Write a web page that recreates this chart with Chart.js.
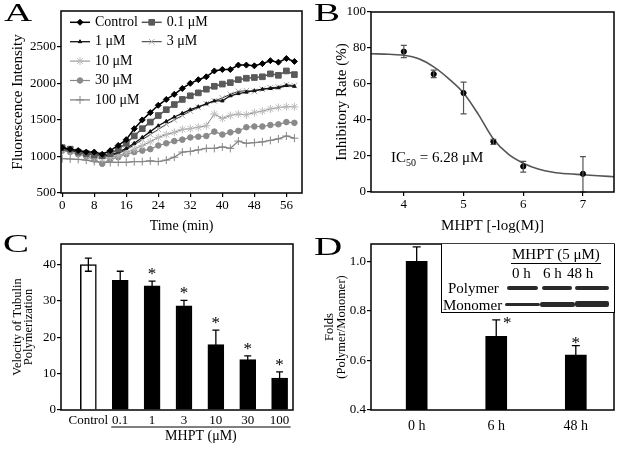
<!DOCTYPE html>
<html>
<head>
<meta charset="utf-8">
<script src="https://cdn.jsdelivr.net/npm/chart.js@4.4.0/dist/chart.umd.min.js"></script>
<style>
body{margin:0;background:#fff;}
#fig{position:relative;width:620px;height:450px;overflow:hidden;font-family:'Liberation Serif','Times New Roman',serif;color:#000;}
canvas{position:absolute;}
.lbl{position:absolute;font-size:26px;line-height:26px;transform:scaleX(1.5);transform-origin:0 0;}
.txt{position:absolute;font-size:15px;line-height:18px;white-space:nowrap;}
.band{position:absolute;background:#2a2a2a;border-radius:2px;filter:blur(0.6px);}
</style>
</head>
<body>
<div id="fig">
  <canvas id="cA" width="310" height="235" style="left:0;top:0"></canvas>
  <canvas id="cB" width="310" height="235" style="left:310px;top:0"></canvas>
  <canvas id="cC" width="310" height="225" style="left:0;top:225px"></canvas>
  <canvas id="cD" width="310" height="225" style="left:310px;top:225px"></canvas>

  <div class="lbl" style="left:4px;top:0">A</div>
  <div class="lbl" style="left:314px;top:0">B</div>
  <div class="lbl" style="left:3px;top:231px">C</div>
  <div class="lbl" style="left:314px;top:234px">D</div>

  <div class="txt" style="left:391px;top:148px">IC<sub style="font-size:10px">50</sub> = 6.28 μM</div>

  <!-- western blot inset of panel D -->
  <div style="position:absolute;left:441px;top:244px;width:172px;height:68px;border:1px solid #000;border-top:none;background:#fff"></div>
  <div class="txt" style="left:511px;top:246px;border-bottom:1px solid #000;padding:0 1px 0 1px;line-height:17px">MHPT (5 μM)</div>
  <div class="txt" style="left:512px;top:264px">0 h</div>
  <div class="txt" style="left:543px;top:264px">6 h</div>
  <div class="txt" style="left:567px;top:264px">48 h</div>
  <div class="txt" style="left:448px;top:279px">Polymer</div>
  <div class="txt" style="left:443px;top:296px">Monomer</div>
  <div class="band" style="left:507px;top:286px;width:31px;height:4px"></div>
  <div class="band" style="left:542px;top:286px;width:30px;height:4px"></div>
  <div class="band" style="left:575px;top:286px;width:34px;height:4px"></div>
  <div class="band" style="left:505px;top:303px;width:35px;height:3px"></div>
  <div class="band" style="left:540px;top:302px;width:35px;height:5px"></div>
  <div class="band" style="left:575px;top:301px;width:34px;height:6px"></div>
</div>

<script>
// ---- data: panel A (fluorescence vs time) ----
var timeMin = [0, 2, 4, 6, 8, 10, 12, 14, 16, 18, 20, 22, 24, 26, 28, 30, 32, 34, 36, 38, 40, 42, 44, 46, 48, 50, 52, 54, 56, 58];
var fControl = [1120, 1100, 1080, 1060, 1060, 1030, 1080, 1150, 1230, 1380, 1500, 1600, 1700, 1780, 1850, 1930, 2000, 2050, 2090, 2170, 2190, 2190, 2250, 2250, 2240, 2270, 2310, 2290, 2340, 2300];
var f01 = [1120, 1100, 1060, 1040, 1020, 1010, 1040, 1100, 1180, 1280, 1380, 1470, 1560, 1640, 1710, 1780, 1830, 1870, 1920, 1960, 1990, 2010, 2050, 2070, 2080, 2090, 2130, 2110, 2170, 2120];
var f1 = [1100, 1080, 1060, 1040, 1030, 1010, 1020, 1060, 1110, 1180, 1260, 1340, 1420, 1480, 1540, 1590, 1640, 1680, 1720, 1760, 1760, 1830, 1860, 1880, 1900, 1920, 1930, 1940, 1970, 1960];
var f3 = [1110, 1090, 1060, 1040, 1020, 1000, 1010, 1040, 1090, 1160, 1230, 1300, 1370, 1440, 1500, 1560, 1620, 1670, 1720, 1760, 1800, 1850, 1890, 1900, 1890, 1920, 1940, 1950, 1980, 1970];
var f10 = [1100, 1080, 1050, 1020, 990, 970, 990, 1010, 1050, 1100, 1150, 1200, 1260, 1300, 1330, 1370, 1380, 1400, 1420, 1580, 1520, 1560, 1580, 1570, 1600, 1620, 1650, 1670, 1680, 1680];
var f30 = [1080, 1060, 1030, 1000, 960, 900, 960, 990, 1030, 1060, 1080, 1100, 1150, 1180, 1210, 1230, 1260, 1270, 1280, 1340, 1300, 1330, 1350, 1400, 1410, 1410, 1430, 1440, 1470, 1460];
var f100 = [970, 965, 960, 950, 930, 920, 920, 920, 920, 930, 930, 940, 930, 950, 990, 1060, 1070, 1090, 1110, 1110, 1130, 1110, 1210, 1180, 1190, 1200, 1220, 1240, 1280, 1250];
var aNames = ['Control', '0.1 μM', '1 μM', '3 μM', '10 μM', '30 μM', '100 μM'];
var aXTicks = [0, 8, 16, 24, 32, 40, 48, 56];
var aYTicks = [500, 1000, 1500, 2000, 2500];

// ---- data: panel B (inhibition vs -log conc) ----
var bX = [4, 4.5, 5, 5.5, 6, 7];
var bY = [78, 65.5, 55, 28, 14.2, 10.1];
var bLo = [74.7, 63.5, 43.4, 26.4, 11, 0];
var bHi = [81.5, 67.7, 61, 29.3, 17, 19.7];
var fitX = [3.45, 3.75, 4, 4.25, 4.5, 4.75, 5, 5.25, 5.5, 5.75, 6, 6.25, 6.5, 6.75, 7, 7.25, 7.52];
var fitY = [76.8, 76.5, 76, 74, 69.5, 63, 55, 43, 29.5, 21, 16, 12.8, 11, 10.1, 9.6, 9, 8.5];
var bXTicks = [4, 5, 6, 7];
var bYTicks = [0, 20, 40, 60, 80, 100];

// ---- data: panel C (velocity bars) ----
var cLabels = ['Control', '0.1', '1', '3', '10', '30', '100'];
var cVals = [40, 35.7, 34.2, 28.7, 18, 13.9, 8.8];
var cErr = [1.8, 2.5, 1.3, 1.5, 4, 1, 1.7];
var cStars = [false, false, true, true, true, true, true];
var cYTicks = [0, 10, 20, 30, 40];

// ---- data: panel D (polymer/monomer folds) ----
var dLabels = ['0 h', '6 h', '48 h'];
var dVals = [1.0, 0.697, 0.622];
var dErr = [0.058, 0.067, 0.038];
var dStars = [false, true, true];
var dYTicks = [0.4, 0.6, 0.8, 1.0];

var SERIF = "'Liberation Serif', 'Times New Roman', serif";
Chart.defaults.font.family = SERIF;
Chart.defaults.color = '#000';
Chart.defaults.animation = false;
Chart.defaults.responsive = false;
Chart.defaults.plugins.legend.display = false;
Chart.defaults.plugins.tooltip.enabled = false;

// box around every plot area
Chart.register({
  id: 'frame',
  afterDraw: function (chart) {
    var a = chart.chartArea, ctx = chart.ctx;
    ctx.save();
    ctx.strokeStyle = '#000';
    ctx.lineWidth = 1.5;
    ctx.strokeRect(a.left, a.top, a.right - a.left, a.bottom - a.top);
    ctx.restore();
  }
});

// vertical error bars from errLo / errHi
Chart.register({
  id: 'errorBars',
  afterDatasetsDraw: function (chart) {
    var ctx = chart.ctx, ys = chart.scales.y;
    chart.data.datasets.forEach(function (ds, i) {
      if (!ds.errLo) return;
      var meta = chart.getDatasetMeta(i);
      ctx.save();
      ctx.strokeStyle = ds.errColor || '#000';
      ctx.lineWidth = ds.errWidth || 1.2;
      meta.data.forEach(function (el, j) {
        var x = el.x, c = ds.capHalf || 3;
        var y1 = ys.getPixelForValue(ds.errLo[j]);
        var y2 = ys.getPixelForValue(ds.errHi[j]);
        ctx.beginPath();
        ctx.moveTo(x, y1); ctx.lineTo(x, y2);
        ctx.moveTo(x - c, y2); ctx.lineTo(x + c, y2);
        ctx.moveTo(x - c, y1); ctx.lineTo(x + c, y1);
        ctx.stroke();
      });
      ctx.restore();
    });
  }
});

// significance asterisks
Chart.register({
  id: 'stars',
  afterDatasetsDraw: function (chart, args, o) {
    if (!o || !o.marks) return;
    var ctx = chart.ctx, ds = chart.data.datasets[0], meta = chart.getDatasetMeta(0), ys = chart.scales.y;
    ctx.save();
    ctx.fillStyle = '#000';
    ctx.font = '17px ' + SERIF;
    ctx.textAlign = 'center';
    ctx.textBaseline = 'alphabetic';
    o.marks.forEach(function (m, k) {
      if (!m) return;
      var off = o.offsets ? o.offsets[k] : [0, -2];
      ctx.fillText('*', meta.data[k].x + off[0], ys.getPixelForValue(ds.errHi[k]) + off[1]);
    });
    ctx.restore();
  }
});

function yAxis(min, max, ticks, title, titleFont, titlePad, fmt) {
  return {
    type: 'linear', min: min, max: max,
    afterBuildTicks: function (s) { s.ticks = ticks.map(function (v) { return { value: v }; }); },
    afterFit: function (s) { s.width = 61; },
    grid: { drawOnChartArea: false, tickLength: 4, color: '#000', lineWidth: 1.2 },
    border: { display: false },
    ticks: { font: { size: 13 }, padding: 1, callback: fmt || function (v) { return v; } },
    title: { display: true, text: title, font: titleFont, padding: { top: titlePad, bottom: 0 } }
  };
}

// ---------- panel A ----------
var aStyles = [
  { c: '#000', w: 1.5, ps: 'rectRot', r: 3, pb: '#000', pf: '#000' },
  { c: '#555', w: 1.5, ps: 'rect', r: 4, pb: '#5a5a5a', pf: '#5a5a5a' },
  { c: '#111', w: 1.3, ps: 'triangle', r: 2, pb: '#111', pf: '#111' },
  { c: '#333', w: 1, ps: 'crossRot', r: 4, pb: '#aaa', pf: '#aaa' },
  { c: '#888', w: 1, ps: 'star', r: 4, pb: '#bbb', pf: '#bbb' },
  { c: '#888', w: 1.2, ps: 'circle', r: 2.8, pb: '#8a8a8a', pf: '#8a8a8a' },
  { c: '#777', w: 1.2, ps: 'cross', r: 4, pb: '#888', pf: '#888' }
];
var aSeries = [fControl, f01, f1, f3, f10, f30, f100];
var legendSlots = [[0, 0], [1, 0], [0, 1], [1, 1], [0, 2], [0, 3], [0, 4]];

new Chart(document.getElementById('cA'), {
  type: 'line',
  data: {
    datasets: aSeries.map(function (vals, i) {
      var s = aStyles[i];
      return {
        label: aNames[i],
        data: vals.map(function (v, k) { return { x: timeMin[k], y: v }; }),
        borderColor: s.c, borderWidth: s.w, tension: 0,
        pointStyle: s.ps, pointRadius: s.r, pointBorderColor: s.pb, pointBackgroundColor: s.pf, pointBorderWidth: 1
      };
    })
  },
  options: {
    layout: { padding: { left: 0, top: 11, right: 8, bottom: 0 } },
    scales: {
      x: {
        type: 'linear', min: -0.3, max: 59.9,
        afterBuildTicks: function (s) { s.ticks = aXTicks.map(function (v) { return { value: v }; }); },
        afterFit: function (s) { s.height = 42; },
        grid: { drawOnChartArea: false, tickLength: 4, color: '#000', lineWidth: 1.2 },
        border: { display: false },
        ticks: { font: { size: 13 }, padding: 1, maxRotation: 0, autoSkip: false },
        title: { display: true, text: 'Time (min)', font: { size: 14 }, padding: { top: 16.6, bottom: 0 } }
      },
      y: yAxis(500, 2990, aYTicks, 'Fluorescence Intensity', { size: 15 }, 9.5)
    }
  },
  plugins: [{
    id: 'legendA',
    afterDraw: function (chart) {
      var ctx = chart.ctx, a = chart.chartArea;
      ctx.save();
      chart.data.datasets.forEach(function (ds, i) {
        var s = aStyles[i], slot = legendSlots[i];
        var x = a.left + (slot[0] ? 90.7 : 19);
        var y = a.top + 11.3 + slot[1] * 19.4;
        ctx.strokeStyle = s.c; ctx.lineWidth = s.w;
        ctx.beginPath(); ctx.moveTo(x - 10, y); ctx.lineTo(x + 10, y); ctx.stroke();
        ctx.strokeStyle = s.pb; ctx.fillStyle = s.pf; ctx.lineWidth = 1;
        Chart.helpers.drawPoint(ctx, { pointStyle: s.ps, radius: s.r, rotation: 0, borderWidth: 1 }, x, y);
        ctx.fillStyle = '#000';
        ctx.font = '14px ' + SERIF;
        ctx.textBaseline = 'middle';
        ctx.fillText(ds.label, x + 15, y);
      });
      ctx.restore();
    }
  }]
});

// ---------- panel B ----------
new Chart(document.getElementById('cB'), {
  type: 'scatter',
  data: {
    datasets: [
      {
        data: bX.map(function (v, k) { return { x: v, y: bY[k] }; }),
        pointRadius: 2.6, pointBackgroundColor: '#000', pointBorderColor: '#000',
        errLo: bLo, errHi: bHi, errColor: '#555', capHalf: 3, errWidth: 1.2
      },
      {
        data: fitX.map(function (v, k) { return { x: v, y: fitY[k] }; }),
        showLine: true, pointRadius: 0, borderColor: '#555', borderWidth: 1.6,
        cubicInterpolationMode: 'monotone'
      }
    ]
  },
  options: {
    layout: { padding: { left: 0, top: 12, right: 6, bottom: 0 } },
    scales: {
      x: {
        type: 'linear', min: 3.45, max: 7.52,
        afterBuildTicks: function (s) { s.ticks = bXTicks.map(function (v) { return { value: v }; }); },
        afterFit: function (s) { s.height = 43; },
        grid: { drawOnChartArea: false, tickLength: 4, color: '#000', lineWidth: 1.2 },
        border: { display: false },
        ticks: { font: { size: 13 }, padding: 1, maxRotation: 0, autoSkip: false },
        title: { display: true, text: 'MHPT [-log(M)]', font: { size: 15 }, padding: { top: 6, bottom: 0 } }
      },
      y: yAxis(0, 100, bYTicks, 'Inhibitory Rate (%)', { size: 15 }, 22.7)
    }
  }
});

// ---------- panel C ----------
new Chart(document.getElementById('cC'), {
  type: 'bar',
  data: {
    datasets: [{
      data: cVals.map(function (v, k) { return { x: k, y: v }; }),
      backgroundColor: cVals.map(function (v, k) { return k === 0 ? '#fff' : '#000'; }),
      borderColor: '#000', borderWidth: 1.5, barThickness: 16,
      errLo: cVals.map(function (v, k) { return v - cErr[k]; }),
      errHi: cVals.map(function (v, k) { return v + cErr[k]; }),
      capHalf: 3.5, errWidth: 1.3
    }]
  },
  options: {
    layout: { padding: { left: 0, top: 19, right: 17, bottom: 0 } },
    plugins: { stars: { marks: cStars } },
    scales: {
      x: {
        type: 'linear', min: -0.858, max: 6.42, offset: false,
        afterBuildTicks: function (s) { s.ticks = cLabels.map(function (v, i) { return { value: i }; }); },
        afterFit: function (s) { s.height = 40; },
        grid: { drawOnChartArea: false, drawTicks: false, offset: false },
        border: { display: false },
        ticks: { font: { size: 13 }, padding: 3, maxRotation: 0, autoSkip: false, callback: function (v) { return cLabels[v]; } }
      },
      y: yAxis(0, 45.7, cYTicks, ['Velocity of Tubulin', 'Polymerization'], { size: 12.5, lineHeight: 0.92 }, 11.5)
    }
  },
  plugins: [{
    id: 'groupC',
    afterDraw: function (chart) {
      var ctx = chart.ctx, xs = chart.scales.x, b = chart.chartArea.bottom;
      var x1 = xs.getPixelForValue(1) - 9, x2 = xs.getPixelForValue(6) + 11;
      ctx.save();
      ctx.strokeStyle = '#000'; ctx.lineWidth = 1.2;
      ctx.beginPath(); ctx.moveTo(x1, b + 17); ctx.lineTo(x2, b + 17); ctx.stroke();
      ctx.fillStyle = '#000'; ctx.font = '14px ' + SERIF;
      ctx.textAlign = 'center'; ctx.textBaseline = 'middle';
      ctx.fillText('MHPT (μM)', (x1 + x2) / 2, b + 26);
      ctx.restore();
    }
  }]
});

// ---------- panel D ----------
new Chart(document.getElementById('cD'), {
  type: 'bar',
  data: {
    datasets: [{
      data: dVals.map(function (v, k) { return { x: k, y: v }; }),
      backgroundColor: '#000', borderColor: '#000', borderWidth: 0, barThickness: 21,
      errLo: dVals.map(function (v, k) { return v - dErr[k]; }),
      errHi: dVals.map(function (v, k) { return v + dErr[k]; }),
      capHalf: 4, errWidth: 1.3
    }]
  },
  options: {
    layout: { padding: { left: 0, top: 19, right: 6, bottom: 0 } },
    plugins: { stars: { marks: dStars, offsets: [[0, 0], [11, 8.4], [0, 2.7]] } },
    scales: {
      x: {
        type: 'linear', min: -0.574, max: 2.48, offset: false,
        afterBuildTicks: function (s) { s.ticks = dLabels.map(function (v, i) { return { value: i }; }); },
        afterFit: function (s) { s.height = 40; },
        grid: { drawOnChartArea: false, drawTicks: false, offset: false },
        border: { display: false },
        ticks: { font: { size: 14 }, padding: 8, maxRotation: 0, autoSkip: false, callback: function (v) { return dLabels[v]; } }
      },
      y: yAxis(0.4, 1.07, dYTicks, ['Folds', '(Polymer/Monomer)'], { size: 12.5, lineHeight: 0.94 }, 14,
        function (v) { return v.toFixed(1); })
    }
  }
});
</script>
</body>
</html>
